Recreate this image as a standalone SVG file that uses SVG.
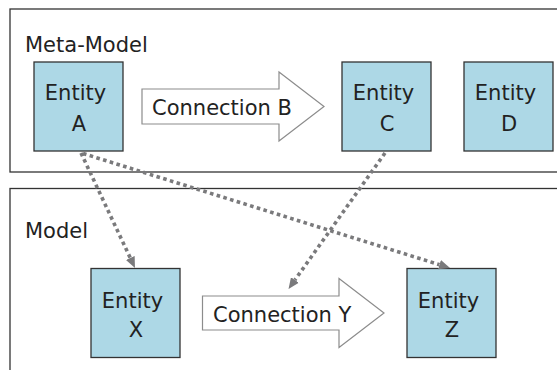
<svg xmlns="http://www.w3.org/2000/svg" width="557" height="370" viewBox="0 0 557 370">
  <style>
    .frame { fill: none; stroke: #333333; stroke-width: 1.3; }
    .entity rect { fill: #add8e6; stroke: #333333; stroke-width: 1.3; }
    .label { font-family: "DejaVu Sans", Verdana, sans-serif; font-size: 21px; fill: #222222; }
    .mid { text-anchor: middle; }
    .block { fill: #ffffff; stroke: #8c8c8c; stroke-width: 1.2; }
    .dots { fill: none; stroke: #7a7a7c; stroke-width: 3.6; stroke-dasharray: 3.6 3.4; marker-end: url(#head); }
  </style>
  <defs>
    <marker id="head" viewBox="0 -5 11 10" refX="0" refY="0" markerWidth="11" markerHeight="10" markerUnits="userSpaceOnUse" orient="auto">
      <path d="M0,-4.8 L11,0 L0,4.8 Z" fill="#7a7a7c"/>
    </marker>
  </defs>
  <rect width="557" height="370" fill="#ffffff"/>

  <!-- layer frames -->
  <g id="meta-model">
    <rect class="frame" x="10" y="9" width="600" height="163"/>
    <text class="label" x="25" y="52">Meta-Model</text>
  </g>
  <g id="model">
    <rect class="frame" x="10" y="188.5" width="600" height="240"/>
    <text class="label" x="25" y="238">Model</text>
  </g>

  <!-- entities -->
  <g id="entity-a" class="entity">
    <rect x="34" y="62" width="89" height="89"/>
    <text class="label mid" x="75.5" y="100">Entity</text>
    <text class="label mid" x="79" y="131">A</text>
  </g>
  <g id="entity-c" class="entity">
    <rect x="342" y="62" width="89" height="89"/>
    <text class="label mid" x="383.5" y="100">Entity</text>
    <text class="label mid" x="387" y="131">C</text>
  </g>
  <g id="entity-d" class="entity">
    <rect x="464" y="62" width="89" height="89"/>
    <text class="label mid" x="505.5" y="100">Entity</text>
    <text class="label mid" x="509" y="131">D</text>
  </g>
  <g id="entity-x" class="entity">
    <rect x="91" y="268.5" width="89" height="89"/>
    <text class="label mid" x="132.5" y="307.5">Entity</text>
    <text class="label mid" x="136" y="337">X</text>
  </g>
  <g id="entity-z" class="entity">
    <rect x="407" y="268.5" width="89" height="89"/>
    <text class="label mid" x="448.5" y="307.5">Entity</text>
    <text class="label mid" x="452" y="337">Z</text>
  </g>

  <!-- block-arrow connections -->
  <g id="connection-b">
    <polygon class="block" points="142,89 279,89 279,72 324,106.5 279,141 279,124 142,124"/>
    <text class="label" x="152" y="115">Connection B</text>
  </g>
  <g id="connection-y">
    <polygon class="block" points="202.5,296 339,296 339,278.5 384,313 339,347.5 339,330 202.5,330"/>
    <text class="label" x="213" y="322">Connection Y</text>
  </g>

  <!-- instance-of links -->
  <g id="connectors">
    <path class="dots" d="M81,153 L130.3,258"/>
    <path class="dots" d="M83,153.5 L439.5,264.7"/>
    <path class="dots" d="M385,153 L294.9,280"/>
  </g>
</svg>
